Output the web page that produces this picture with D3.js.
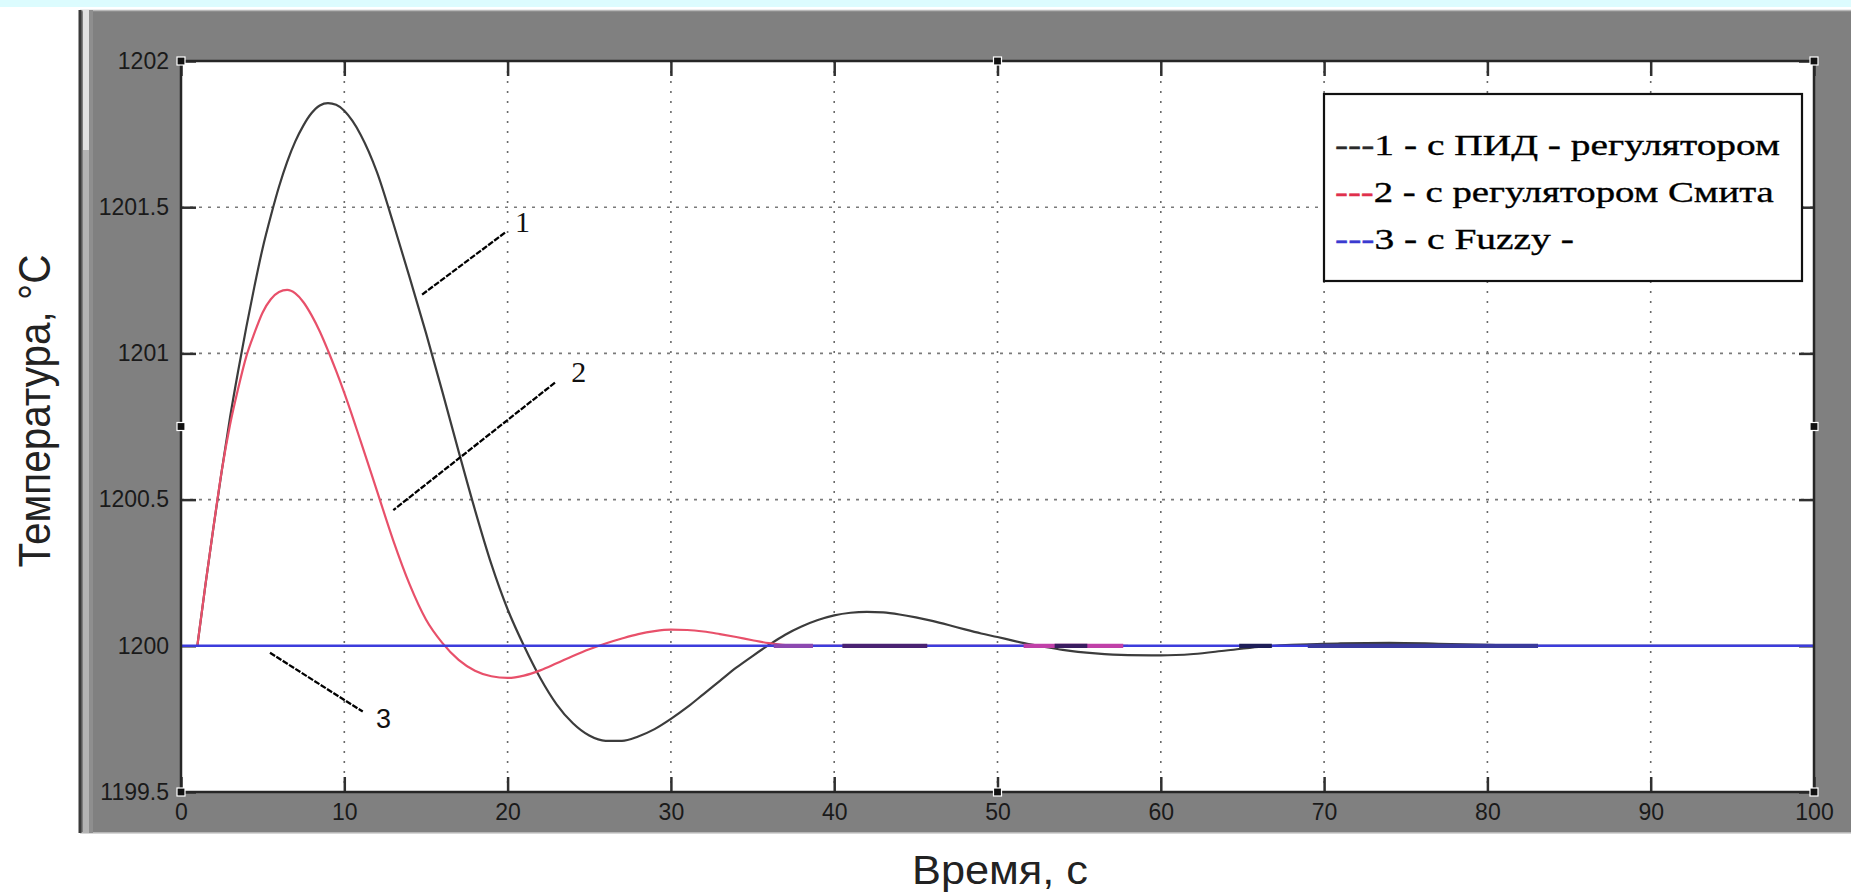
<!DOCTYPE html>
<html><head><meta charset="utf-8">
<script src="https://cdn.jsdelivr.net/npm/d3@7"></script>
<style>
html,body{margin:0;padding:0;background:#fff;overflow:hidden}
svg{display:block}
</style></head>
<body>
<svg id="chart" width="1851" height="894"></svg>
<script>
// ---------- data ----------
const xTicks = [0,10,20,30,40,50,60,70,80,90,100];
const yTicks = [1199.5,1200,1200.5,1201,1201.5,1202];
const yTickLabels = ["1199.5","1200","1200.5","1201","1201.5","1202"];

// curve 1: PID controller
const pidTime = [1,1.5,2,2.5,3,3.5,4,4.5,5,5.5,6,6.5,7,7.5,8,8.5,9,9.5,10,10.5,11,12,13,14,15,16,17,18,19,20,21,22,23,24,25,26,27,28,29,30,31,32,33,34,35,36,37,38,39,40,41,42,43,44,45,46,47,48,49,50,51,52,53,54,56,58,60,62,64,66,68,71,74,77,80,83,100];
const pidValues = [1200,1200.21,1200.41,1200.6,1200.78,1200.94,1201.09,1201.23,1201.36,1201.47,1201.57,1201.655,1201.725,1201.78,1201.822,1201.848,1201.856,1201.85,1201.83,1201.795,1201.748,1201.62,1201.445,1201.26,1201.07,1200.87,1200.665,1200.465,1200.28,1200.125,1200.0,1199.89,1199.8,1199.735,1199.693,1199.675,1199.675,1199.69,1199.715,1199.75,1199.79,1199.835,1199.88,1199.925,1199.965,1200.003,1200.038,1200.066,1200.088,1200.104,1200.113,1200.116,1200.114,1200.107,1200.097,1200.085,1200.071,1200.056,1200.042,1200.03,1200.017,1200.005,1199.995,1199.986,1199.974,1199.968,1199.967,1199.972,1199.984,1199.996,1200.003,1200.008,1200.01,1200.007,1200.003,1200.0,1200.0];

// curve 2: Smith predictor
const smithTime = [1,1.5,2,2.5,3,3.5,4,4.5,5,5.5,6,6.5,7,7.5,8,8.5,9,9.5,10,11,12,13,14,15,16,17,18,19,20,21,22,23,24,25,26,27,28,29,30,31,32,33,34,35,36,37,38,58];
const smithValues = [1200,1200.21,1200.41,1200.6,1200.755,1200.88,1200.99,1201.07,1201.14,1201.185,1201.21,1201.217,1201.205,1201.175,1201.13,1201.075,1201.01,1200.94,1200.865,1200.7,1200.53,1200.36,1200.21,1200.09,1200.01,1199.952,1199.915,1199.896,1199.89,1199.898,1199.916,1199.94,1199.965,1199.988,1200.008,1200.025,1200.04,1200.05,1200.055,1200.054,1200.049,1200.04,1200.03,1200.019,1200.009,1200.002,1200.0,1200.0];

// curve 3: Fuzzy
const fuzzyTime = [0,100];
const fuzzyValues = [1200,1200];

// dark overlap blotches visible on the 1200 line: [t0, t1, colour]
const overlapSegments = [[36.3,38.7,"#8c48b0"],[40.5,45.7,"#4a2272"],[51.6,57.7,"#c040a8"],[53.5,55.5,"#3a1c60"],[64.8,66.8,"#1e1e58"],[69,83.1,"#3a3a9c"]];

// callouts: [label, textT, textV, lineT0, lineV0, lineT1, lineV1, font]
const callouts = [
  ["1", 20.45, 1201.415, 19.84, 1201.413, 14.74, 1201.2, "serif"],
  ["2", 23.9, 1200.902, 22.9, 1200.90, 13.0, 1200.464, "serif"],
  ["3", 11.94, 1199.719, 5.45, 1199.976, 11.13, 1199.775, "sans"]
];

const legendLabels = ["1 - с ПИД - регулятором","2 - с регулятором Смита","3 - с Fuzzy -"];
const legendColors = ["#2a2a2a","#e0304c","#3a3ad0"];
const seriesColors = ["#3c3c3c","#e8506a","#3c3cdc"];

const xLabel = "Время, с";
const yLabel = "Температура, °C";

// ---------- drawing ----------
const svg = d3.select("#chart");
const W = 1851, H = 894;
const L = 181, R = 1814, T = 61, B = 792;

const x = d3.scaleLinear().domain([0,100]).range([L,R]);
const y = d3.scaleLinear().domain([1199.5,1202]).range([B,T]);

// background bits
svg.append("rect").attr("x",0).attr("y",0).attr("width",W).attr("height",H).attr("fill","#fff");
svg.append("rect").attr("x",0).attr("y",0).attr("width",W).attr("height",7).attr("fill","#dcfcfe");
// gray figure frame
svg.append("rect").attr("x",80).attr("y",10).attr("width",W-80).attr("height",823).attr("fill","#808080");
svg.append("line").attr("x1",80).attr("x2",W).attr("y1",10.5).attr("y2",10.5).attr("stroke","#b8b8b8").attr("stroke-width",1.5);
svg.append("line").attr("x1",80).attr("x2",W).attr("y1",833).attr("y2",833).attr("stroke","#c8c8c8").attr("stroke-width",1.5);
svg.append("rect").attr("x",78.5).attr("y",10).attr("width",3).attr("height",823).attr("fill","#3a3a3a");
svg.append("rect").attr("x",83).attr("y",10).attr("width",6).attr("height",823).attr("fill","#b4b4b4");
svg.append("rect").attr("x",83).attr("y",10).attr("width",6).attr("height",140).attr("fill","#e2e2e2");
svg.append("rect").attr("x",89).attr("y",10).attr("width",4).attr("height",823).attr("fill","#8e8e8e");

// plot area
svg.append("rect").attr("x",L).attr("y",T).attr("width",R-L).attr("height",B-T).attr("fill","#fff");

svg.append("defs").append("clipPath").attr("id","clip")
  .append("rect").attr("x",L).attr("y",T).attr("width",R-L).attr("height",B-T);

// grid
const grid = svg.append("g").attr("clip-path","url(#clip)");
grid.selectAll("line.vg").data(xTicks.slice(1,-1)).join("line")
  .attr("x1",d=>x(d)).attr("x2",d=>x(d)).attr("y1",T).attr("y2",B)
  .attr("stroke","#6a6a6a").attr("stroke-width",1.6).attr("stroke-dasharray","2,8");
grid.selectAll("line.hg").data(yTicks.slice(1,-1)).join("line")
  .attr("x1",L).attr("x2",R).attr("y1",d=>y(d)).attr("y2",d=>y(d))
  .attr("stroke","#7a7a7a").attr("stroke-width",1.6).attr("stroke-dasharray","3,6");

// axes (ticks inside)
const fmtY = d => yTickLabels[yTicks.indexOf(d)];
const axB = svg.append("g").attr("transform",`translate(0,${B})`)
  .call(d3.axisBottom(x).tickValues(xTicks).tickSize(-15).tickPadding(12).tickFormat(d=>String(d)));
const axL = svg.append("g").attr("transform",`translate(${L},0)`)
  .call(d3.axisLeft(y).tickValues(yTicks).tickSize(-15).tickPadding(12).tickFormat(fmtY));
const axT = svg.append("g").attr("transform",`translate(0,${T})`)
  .call(d3.axisTop(x).tickValues(xTicks).tickSize(-15).tickFormat(""));
const axR = svg.append("g").attr("transform",`translate(${R},0)`)
  .call(d3.axisRight(y).tickValues(yTicks).tickSize(-15).tickFormat(""));
[axB,axL,axT,axR].forEach(a=>{
  a.select(".domain").remove();
  a.selectAll(".tick line").attr("stroke","#303030").attr("stroke-width",2.5);
  a.selectAll(".tick text").attr("fill","#1a1a1a")
    .style("font-family","'Liberation Sans',Arial,sans-serif").style("font-size","23px");
});

// curves
const line = d3.line().x(d=>x(d[0])).y(d=>y(d[1])).curve(d3.curveMonotoneX);
const curves = svg.append("g").attr("clip-path","url(#clip)");
curves.append("path").datum(pidTime.map((t,i)=>[t,pidValues[i]]))
  .attr("d",line).attr("fill","none").attr("stroke",seriesColors[0]).attr("stroke-width",2.2);
curves.append("path").datum(smithTime.map((t,i)=>[t,smithValues[i]]))
  .attr("d",line).attr("fill","none").attr("stroke",seriesColors[1]).attr("stroke-width",2.2);
curves.append("path").datum(fuzzyTime.map((t,i)=>[t,fuzzyValues[i]]))
  .attr("d",d3.line().x(d=>x(d[0])).y(d=>y(d[1]))).attr("fill","none")
  .attr("stroke",seriesColors[2]).attr("stroke-width",2.6);
curves.selectAll("line.ov").data(overlapSegments).join("line")
  .attr("x1",d=>x(d[0])).attr("x2",d=>x(d[1])).attr("y1",y(1200)).attr("y2",y(1200))
  .attr("stroke",d=>d[2]).attr("stroke-width",4.2);

// callouts
const co = svg.append("g");
co.selectAll("line").data(callouts).join("line")
  .attr("x1",d=>x(d[3])).attr("y1",d=>y(d[4])).attr("x2",d=>x(d[5])).attr("y2",d=>y(d[6]))
  .attr("stroke","#000").attr("stroke-width",2.3).attr("stroke-dasharray","6,1.5");
co.selectAll("text").data(callouts).join("text")
  .attr("x",d=>x(d[1])).attr("y",d=>y(d[2]))
  .attr("fill","#111")
  .style("font-family",d=>d[7]==="serif"?"'Liberation Serif','Times New Roman',serif":"'Liberation Sans',Arial,sans-serif")
  .style("font-size",d=>d[7]==="serif"?"30px":"27px")
  .text(d=>d[0]);

// plot border
svg.append("rect").attr("x",L).attr("y",T).attr("width",R-L).attr("height",B-T)
  .attr("fill","none").attr("stroke","#262626").attr("stroke-width",2.5);

// selection handles
const hx = [L,(L+R)/2,R], hy = [T,(T+B)/2,B];
const handles = [];
hx.forEach(a=>hy.forEach(b=>{ if(!(a===(L+R)/2 && b===(T+B)/2)) handles.push([a,b]); }));
svg.selectAll("rect.h").data(handles).join("rect")
  .attr("x",d=>d[0]-4).attr("y",d=>d[1]-4).attr("width",8).attr("height",8)
  .attr("fill","#111").attr("stroke","#fff").attr("stroke-width",1.2);

// legend
const lg = svg.append("g");
lg.append("rect").attr("x",1324).attr("y",94).attr("width",478).attr("height",187)
  .attr("fill","#fff").attr("stroke","#111").attr("stroke-width",2.2);
const lgWidths = [445,439,239];
legendLabels.forEach((lab,i)=>{
  const t = lg.append("text").attr("x",0).attr("y",0)
    .style("font-family","'Liberation Serif','Times New Roman',serif").style("font-size","30px")
    .attr("fill","#000").attr("stroke","#000").attr("stroke-width",0.35);
  t.append("tspan").attr("fill",legendColors[i]).attr("stroke",legendColors[i]).text("---");
  t.append("tspan").text(lab);
  const w = t.node().getComputedTextLength() || 1;
  t.attr("transform",`translate(1335,${155+i*47}) scale(${lgWidths[i]/w},1)`);
});

// axis labels
svg.append("text").attr("x",1000).attr("y",884).attr("text-anchor","middle")
  .attr("textLength",176).attr("lengthAdjust","spacingAndGlyphs")
  .style("font-family","'Liberation Sans',Arial,sans-serif").style("font-size","40px")
  .attr("fill","#222").text(xLabel);
svg.append("text").attr("transform","translate(50,411) scale(1.1,1) rotate(-90)")
  .attr("text-anchor","middle")
  .attr("textLength",313).attr("lengthAdjust","spacingAndGlyphs")
  .style("font-family","'Liberation Sans',Arial,sans-serif").style("font-size","40px")
  .attr("fill","#222").text(yLabel);
</script>
</body></html>
